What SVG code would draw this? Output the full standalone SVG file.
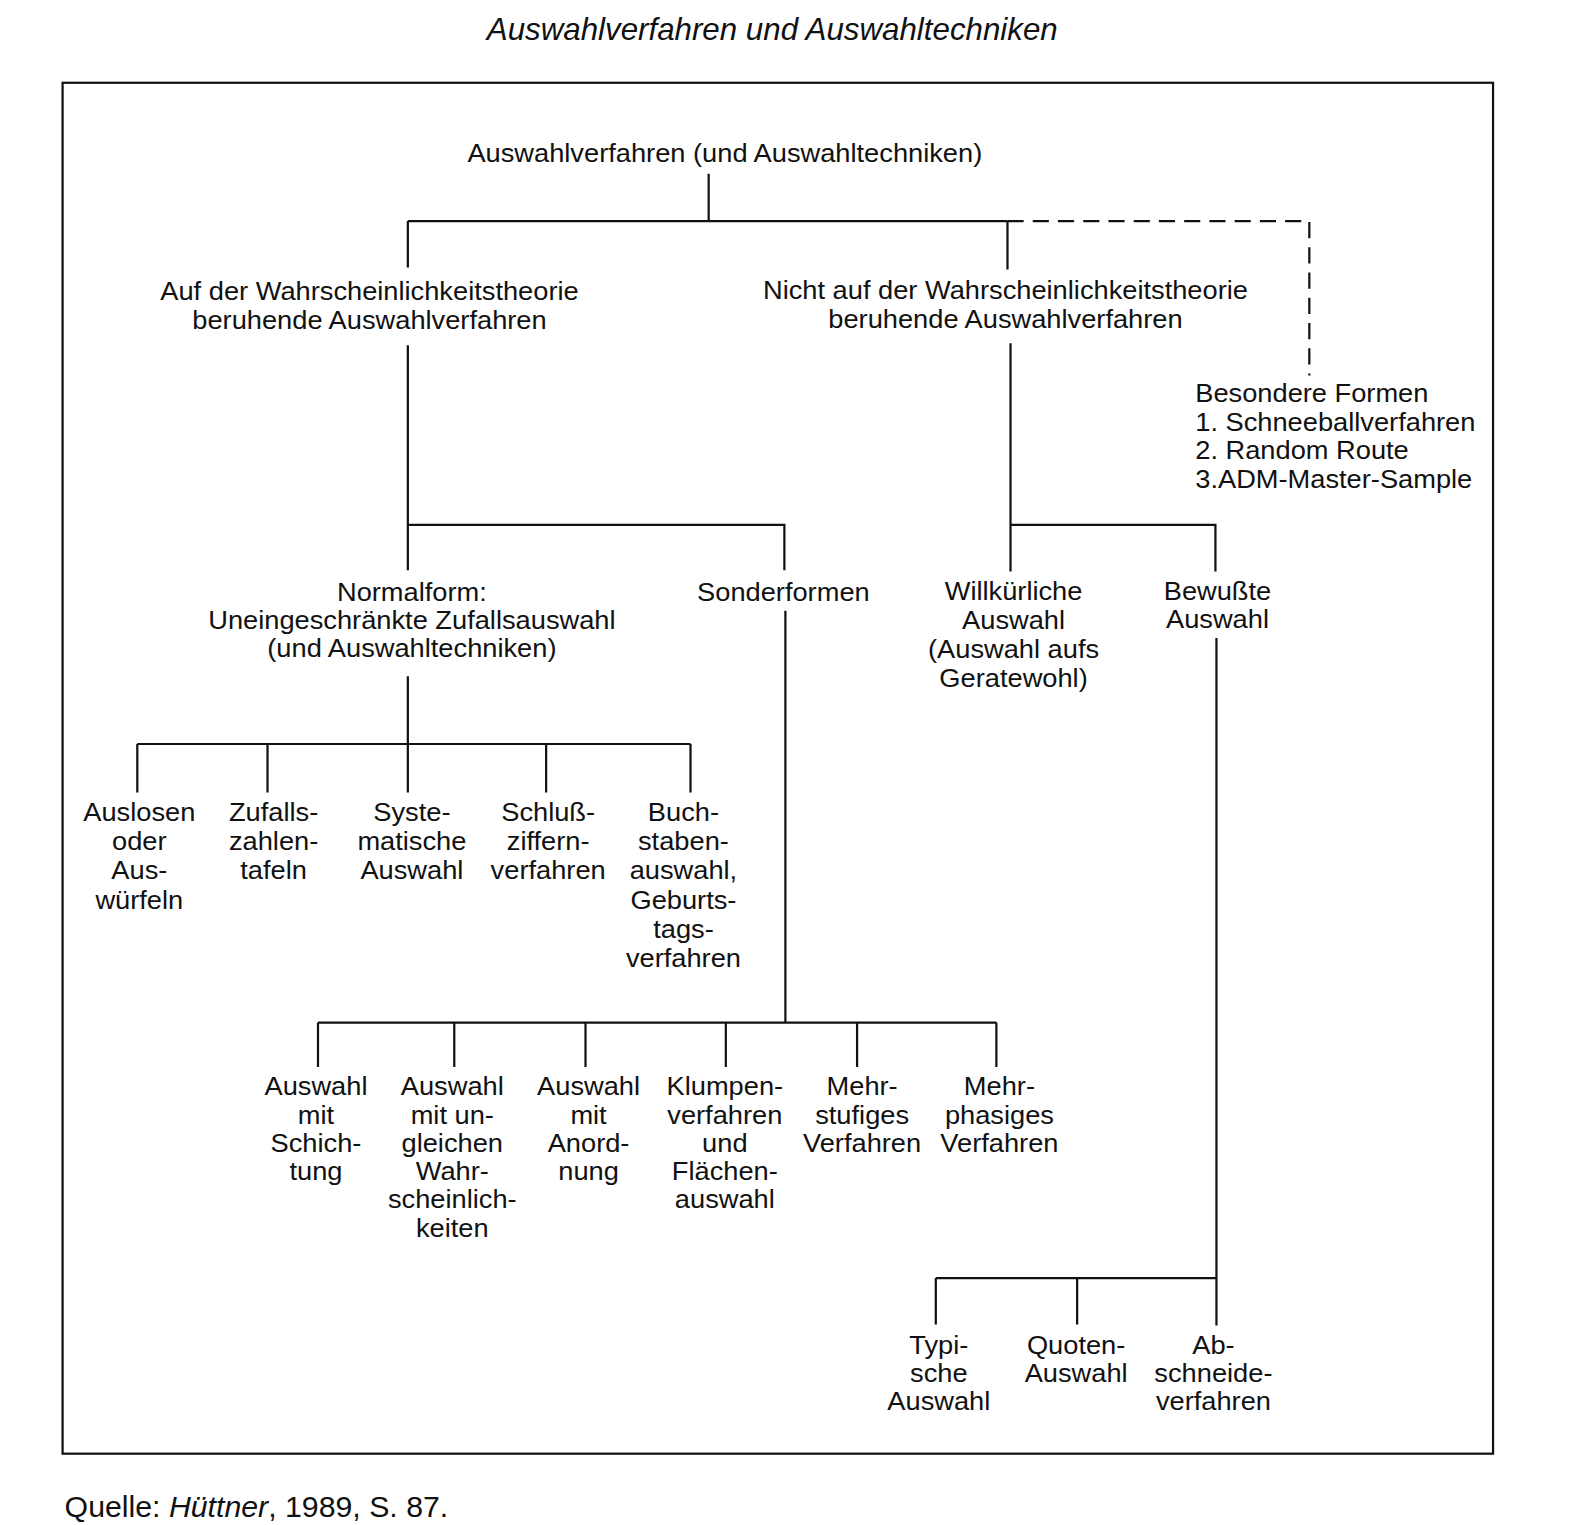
<svg xmlns="http://www.w3.org/2000/svg" width="1585" height="1525" viewBox="0 0 1585 1525">
<style>
text{font-family:"Liberation Sans",Arial,sans-serif;font-size:25px;fill:#111;}
.c{text-anchor:middle;}
.t{font-size:31px;font-style:italic;}
.f{font-size:30px;}
.ln{stroke:#111;stroke-width:2.2;fill:none;}
.ds{stroke:#111;stroke-width:2.2;fill:none;stroke-dasharray:16 9;}
</style>
<rect x="0" y="0" width="1585" height="1525" fill="#fff"/>
<g transform="scale(1.0095)">
<text class="t c" x="765" y="40">Auswahlverfahren und Auswahltechniken</text>
<rect x="62" y="82" width="1417" height="1358" class="ln"/>
<g id="connectors">
<path class="ln" d="M702 172V219M404 219H998M404 219V265M998 219V267"/>
<path class="ds" d="M998 219H1297V372"/>
<path class="ln" d="M404 342V520H777V565M404 520V565"/>
<path class="ln" d="M1001 340V520H1204V566M1001 520V566"/>
<path class="ln" d="M404 670V737M136 737H684M136 737V785M265 737V785M404 737V785M541 737V785M684 737V785"/>
<path class="ln" d="M778 605V1013M315 1013H987M315 1013V1057M450 1013V1057M580 1013V1057M719 1013V1057M849 1013V1057M987 1013V1057"/>
<path class="ln" d="M1205 632V1313M927 1266H1205M927 1266V1312M1067 1266V1312"/>
</g>
<g id="root" transform="translate(718 0) scale(1.08 1)"><text class="c" x="0" y="160">Auswahlverfahren (und Auswahltechniken)</text></g>
<g id="prob" transform="translate(366 0) scale(1.08 1)"><text class="c" x="0" y="297">Auf der Wahrscheinlichkeitstheorie<tspan x="0" dy="29">beruhende Auswahlverfahren</tspan></text></g>
<g id="nonprob" transform="translate(996 0) scale(1.08 1)"><text class="c" x="0" y="296">Nicht auf der Wahrscheinlichkeitstheorie<tspan x="0" dy="29">beruhende Auswahlverfahren</tspan></text></g>
<g id="besondere" transform="translate(1184 0) scale(1.08 1)"><text x="0" y="398">Besondere Formen<tspan x="0" dy="29">1. Schneeballverfahren</tspan><tspan x="0" dy="28">2. Random Route</tspan><tspan x="0" dy="28">3.ADM-Master-Sample</tspan></text></g>
<g id="normalform" transform="translate(408 0) scale(1.08 1)"><text class="c" x="0" y="595">Normalform:<tspan x="0" dy="28">Uneingeschränkte Zufallsauswahl</tspan><tspan x="0" dy="28">(und Auswahltechniken)</tspan></text></g>
<g id="sonderformen" transform="translate(776 0) scale(1.08 1)"><text class="c" x="0" y="595">Sonderformen</text></g>
<g id="willkuer" transform="translate(1004 0) scale(1.08 1)"><text class="c" x="0" y="594">Willkürliche<tspan x="0" dy="29">Auswahl</tspan><tspan x="0" dy="29">(Auswahl aufs</tspan><tspan x="0" dy="29">Geratewohl)</tspan></text></g>
<g id="bewusst" transform="translate(1206 0) scale(1.08 1)"><text class="c" x="0" y="594">Bewußte<tspan x="0" dy="28">Auswahl</tspan></text></g>
<g id="auslosen" transform="translate(138 0) scale(1.08 1)"><text class="c" x="0" y="813">Auslosen<tspan x="0" dy="29">oder</tspan><tspan x="0" dy="29">Aus-</tspan><tspan x="0" dy="29">würfeln</tspan></text></g>
<g id="zufallszahlen" transform="translate(271 0) scale(1.08 1)"><text class="c" x="0" y="813">Zufalls-<tspan x="0" dy="29">zahlen-</tspan><tspan x="0" dy="29">tafeln</tspan></text></g>
<g id="systematisch" transform="translate(408 0) scale(1.08 1)"><text class="c" x="0" y="813">Syste-<tspan x="0" dy="29">matische</tspan><tspan x="0" dy="29">Auswahl</tspan></text></g>
<g id="schluss" transform="translate(543 0) scale(1.08 1)"><text class="c" x="0" y="813">Schluß-<tspan x="0" dy="29">ziffern-</tspan><tspan x="0" dy="29">verfahren</tspan></text></g>
<g id="buchstaben" transform="translate(677 0) scale(1.08 1)"><text class="c" x="0" y="813">Buch-<tspan x="0" dy="29">staben-</tspan><tspan x="0" dy="29">auswahl,</tspan><tspan x="0" dy="29">Geburts-</tspan><tspan x="0" dy="29">tags-</tspan><tspan x="0" dy="29">verfahren</tspan></text></g>
<g id="schichtung" transform="translate(313 0) scale(1.08 1)"><text class="c" x="0" y="1085">Auswahl<tspan x="0" dy="28">mit</tspan><tspan x="0" dy="28">Schich-</tspan><tspan x="0" dy="28">tung</tspan></text></g>
<g id="ungleich" transform="translate(448 0) scale(1.08 1)"><text class="c" x="0" y="1085">Auswahl<tspan x="0" dy="28">mit un-</tspan><tspan x="0" dy="28">gleichen</tspan><tspan x="0" dy="28">Wahr-</tspan><tspan x="0" dy="28">scheinlich-</tspan><tspan x="0" dy="28">keiten</tspan></text></g>
<g id="anordnung" transform="translate(583 0) scale(1.08 1)"><text class="c" x="0" y="1085">Auswahl<tspan x="0" dy="28">mit</tspan><tspan x="0" dy="28">Anord-</tspan><tspan x="0" dy="28">nung</tspan></text></g>
<g id="klumpen" transform="translate(718 0) scale(1.08 1)"><text class="c" x="0" y="1085">Klumpen-<tspan x="0" dy="28">verfahren</tspan><tspan x="0" dy="28">und</tspan><tspan x="0" dy="28">Flächen-</tspan><tspan x="0" dy="28">auswahl</tspan></text></g>
<g id="mehrstufig" transform="translate(854 0) scale(1.08 1)"><text class="c" x="0" y="1085">Mehr-<tspan x="0" dy="28">stufiges</tspan><tspan x="0" dy="28">Verfahren</tspan></text></g>
<g id="mehrphasig" transform="translate(990 0) scale(1.08 1)"><text class="c" x="0" y="1085">Mehr-<tspan x="0" dy="28">phasiges</tspan><tspan x="0" dy="28">Verfahren</tspan></text></g>
<g id="typisch" transform="translate(930 0) scale(1.08 1)"><text class="c" x="0" y="1341">Typi-<tspan x="0" dy="28">sche</tspan><tspan x="0" dy="28">Auswahl</tspan></text></g>
<g id="quoten" transform="translate(1066 0) scale(1.08 1)"><text class="c" x="0" y="1341">Quoten-<tspan x="0" dy="28">Auswahl</tspan></text></g>
<g id="abschneide" transform="translate(1202 0) scale(1.08 1)"><text class="c" x="0" y="1341">Ab-<tspan x="0" dy="28">schneide-</tspan><tspan x="0" dy="28">verfahren</tspan></text></g>
<text class="f" x="64" y="1503">Quelle: <tspan font-style="italic">Hüttner</tspan>, 1989, S. 87.</text>
</g>
</svg>
